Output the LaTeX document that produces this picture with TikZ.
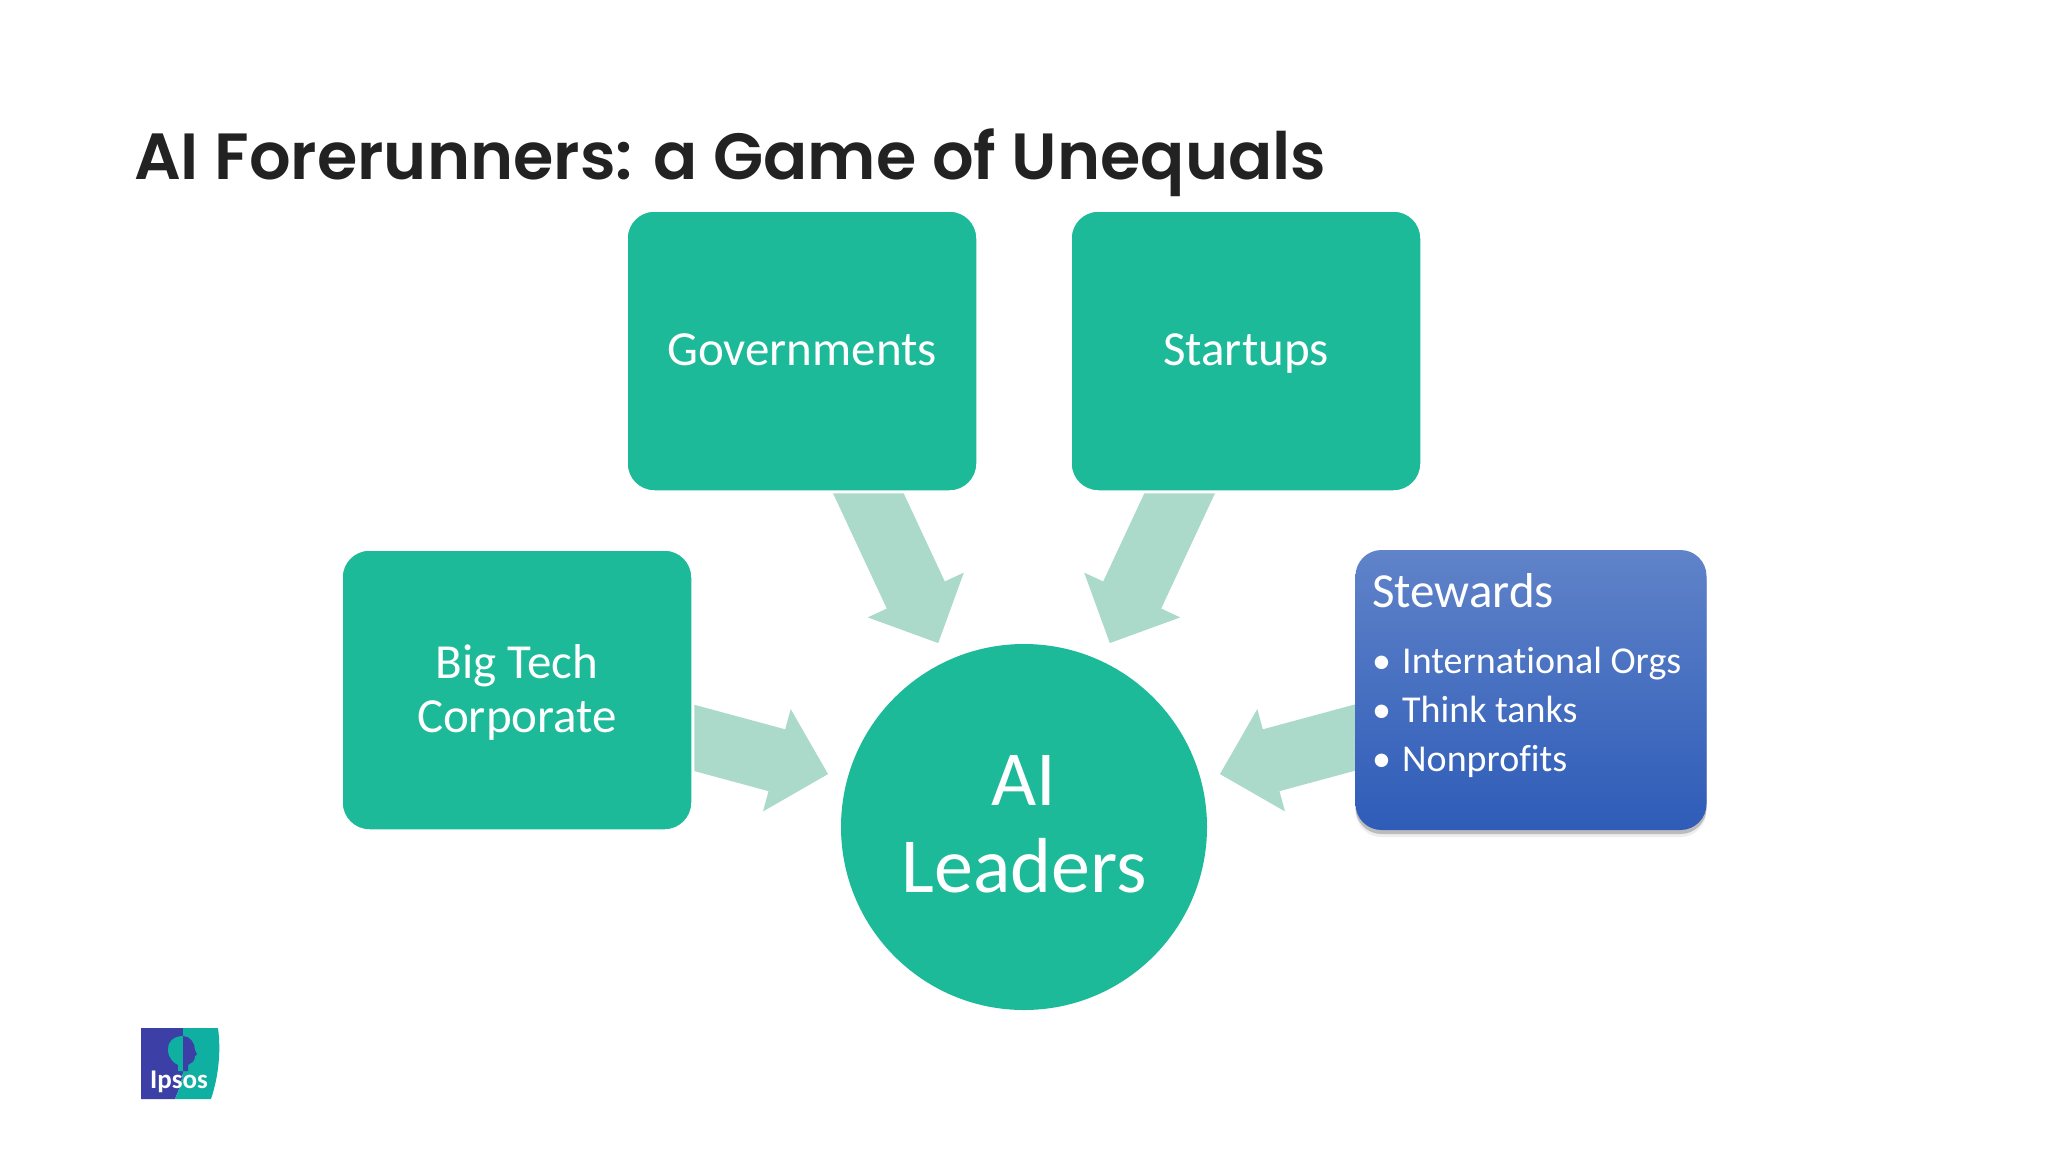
\documentclass[tikz,border=0pt]{standalone}
\usepackage{fontspec}
\setmainfont{Carlito}[Ligatures=NoCommon]
\newfontfamily\titlefont{Poppins SemiBold}
\usetikzlibrary{calc,shadows,backgrounds}
\definecolor{teal}{HTML}{1CBA99}
\definecolor{flowc}{HTML}{ABDACB}
\definecolor{titlec}{HTML}{222222}
\definecolor{logob}{HTML}{3B3FA6}
\definecolor{logot}{HTML}{0FB0A2}
\definecolor{stewtop}{HTML}{6083C9}
\definecolor{stewbot}{HTML}{2E5CB8}
\tikzset{
  x=1pt,y=-1pt,
  boxnode/.style={fill=teal,draw=white,line width=3pt,rounded corners=28pt,minimum width=351.5pt,minimum height=281.5pt,inner sep=0pt,text=white,font=\fontsize{49}{54}\selectfont,align=center},
  oneline/.style={text height=38pt,text depth=10pt},
  hubnode/.style={circle,fill=teal,minimum size=366pt,inner sep=0pt,text=white,font=\fontsize{78}{87}\selectfont,align=center},
  stewardbox/.style={rounded corners=26pt,minimum width=351pt,minimum height=280pt,inner sep=0pt,top color=stewtop,bottom color=stewbot,
     general shadow={shadow xshift=0pt,shadow yshift=-7pt,fill=black!35,opacity=.18},
     general shadow={shadow xshift=0pt,shadow yshift=-4pt,fill=black!50,opacity=.45}},
  flow/.style={fill=flowc,draw=none},
}
\newcommand{\flowarrow}[2]{%
  \coordinate (tip) at ($(#2)!203pt!(#1)$);
  \coordinate (hb) at ($(tip)!53pt!(#1)$);
  \fill[flow] ($(#1)!32pt!90:(tip)$) -- ($(hb)!32pt!-90:(#1)$) -- ($(hb)!53pt!-90:(#1)$) -- (tip)
     -- ($(hb)!53pt!90:(#1)$) -- ($(hb)!32pt!90:(#1)$) -- ($(#1)!32pt!-90:(tip)$) -- cycle;
}
\begin{document}
\begin{tikzpicture}
\useasboundingbox (0,0) rectangle (2048,1152);

\node[anchor=base west,inner sep=0pt,text=titlec,font=\titlefont\fontsize{65.3}{80}\selectfont] (title) at (134,179) {AI Forerunners: a Game of Unequals};

% nodes
\node[boxnode,oneline] (gov) at (802,351) {Governments};
\node[boxnode,oneline] (start) at (1246,351) {Startups};
\node[boxnode] (big) at (517,690) {\rule{0pt}{39pt}Big Tech\\Corporate};
\node[stewardbox] (stew) at (1531,690) {};
\node[hubnode] (hub) at (1024,827) {AI\\\rule[-6pt]{0pt}{1pt}Leaders};

\node[anchor=north west,inner sep=0pt,text=white,align=left,font=\fontsize{38}{49}\selectfont] (stewtext) at (1372,573)
 {\fontsize{49}{65}\selectfont Stewards\\[17pt]
  \fontsize{38}{49}\selectfont\makebox[30pt][l]{\textbullet}International Orgs\\
  \makebox[30pt][l]{\textbullet}Think tanks\\
  \makebox[30pt][l]{\textbullet}Nonprofits};

\begin{pgfonlayer}{background}
\fill[white] (0,0) rectangle (2048,1152);
\flowarrow{gov}{hub}
\flowarrow{start}{hub}
\flowarrow{big}{hub}
\flowarrow{stew}{hub}
\end{pgfonlayer}

% logo
\fill[logob] (141,1028) -- (183,1028) -- (183,1072) .. controls (182,1082) and (178,1092) .. (175,1099) -- (141,1099) -- cycle;
\fill[logot] (183,1028) -- (218,1028) .. controls (221,1050) and (219,1075) .. (211,1099) -- (175,1099) .. controls (178,1092) and (182,1082) .. (183,1072) -- cycle;
\fill[logot] (183,1036) .. controls (172,1036) and (167,1044) .. (168,1051) .. controls (169,1059) and (174,1063) .. (178,1065) -- (178,1071) -- (183,1071) -- cycle;
\fill[logob] (183,1036) .. controls (190,1036) and (195,1043) .. (195,1050) -- (197,1054) -- (195,1056) .. controls (195,1062) and (191,1063) .. (188,1065) -- (188,1071) -- (183,1071) -- cycle;
\node[inner sep=0pt,text=white,font=\bfseries\fontsize{27}{30}\selectfont] (logotext) at (179,1082) {Ipsos};
\end{tikzpicture}
\end{document}
